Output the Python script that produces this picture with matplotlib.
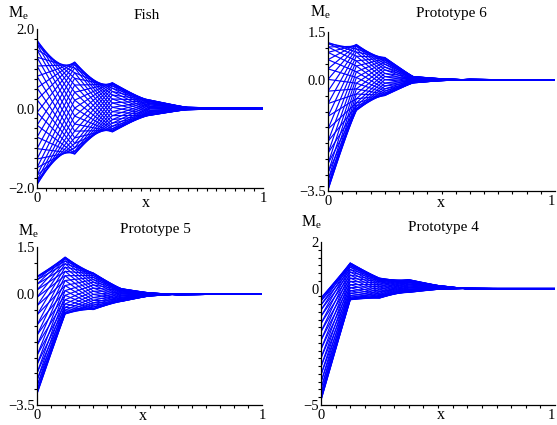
import numpy as np
import matplotlib.pyplot as plt
from matplotlib.ticker import FixedLocator, MultipleLocator

plt.rcParams['font.family'] = ['Liberation Serif', 'DejaVu Serif']
plt.rcParams['mathtext.fontset'] = 'stix'

# ---- data: M_e at the element nodes, one list per node, one entry per curve ----
fish_x = [0.0, 0.1667, 0.3333, 0.5, 0.6667, 0.8333, 1.0]
proto_x = [0.0, 0.125, 0.25, 0.375, 0.5, 0.625, 0.75, 0.875, 1.0]

tiny_col = [0.010, 0.011, 0.012, 0.012, 0.012, 0.011, 0.010, 0.009, 0.008, 0.006, 0.004, 0.002,
            0.0, -0.002, -0.004, -0.006, -0.008, -0.009, -0.010, -0.011, -0.012, -0.012, -0.012, -0.011,
            -0.010, -0.009, -0.008, -0.006, -0.004, -0.002, 0.0, 0.002, 0.004, 0.006, 0.008, 0.009]
zero_col = [0.0] * 36

fish_m0 = [1.72, 1.69, 1.61, 1.48, 1.29, 1.07, 0.81, 0.52, 0.22, -0.10, -0.42, -0.72, -1.01, -1.27, -1.49, -1.68, -1.81, -1.89,
           -1.92, -1.89, -1.81, -1.68, -1.49, -1.27, -1.01, -0.72, -0.42, -0.10, 0.22, 0.52, 0.81, 1.07, 1.29, 1.48, 1.61, 1.69]
fish_m1 = [0.41, 0.21, 0.01, -0.19, -0.39, -0.57, -0.74, -0.88, -0.99, -1.08, -1.13, -1.15, -1.13, -1.08, -0.99, -0.88, -0.74, -0.57,
           -0.39, -0.19, 0.01, 0.21, 0.41, 0.59, 0.76, 0.90, 1.02, 1.10, 1.15, 1.17, 1.15, 1.10, 1.02, 0.90, 0.76, 0.59]
fish_m2 = [-0.51, -0.55, -0.58, -0.59, -0.58, -0.55, -0.51, -0.45, -0.37, -0.28, -0.18, -0.08, 0.03, 0.14, 0.24, 0.34, 0.43, 0.51,
           0.57, 0.61, 0.64, 0.65, 0.64, 0.61, 0.57, 0.51, 0.43, 0.34, 0.24, 0.14, 0.03, -0.08, -0.18, -0.28, -0.37, -0.45]
fish_m3 = [-0.15, -0.13, -0.10, -0.08, -0.05, -0.01, 0.02, 0.05, 0.09, 0.12, 0.14, 0.17, 0.18, 0.20, 0.21, 0.21, 0.21, 0.20,
           0.18, 0.17, 0.14, 0.12, 0.09, 0.05, 0.02, -0.01, -0.05, -0.08, -0.10, -0.13, -0.15, -0.16, -0.17, -0.17, -0.17, -0.16]
fish_m4 = [0.0, 0.005, 0.01, 0.015, 0.019, 0.023, 0.026, 0.028, 0.03, 0.03, 0.03, 0.028, 0.026, 0.023, 0.019, 0.015, 0.01, 0.005,
           0.0, -0.005, -0.01, -0.015, -0.019, -0.023, -0.026, -0.028, -0.03, -0.03, -0.03, -0.028, -0.026, -0.023, -0.019, -0.015, -0.01, -0.005]

p6_m0 = [1.17, 1.14, 1.03, 0.86, 0.63, 0.34, 0.01, -0.36, -0.75, -1.15, -1.55, -1.94, -2.31, -2.64, -2.93, -3.16, -3.33, -3.44,
         -3.47, -3.44, -3.33, -3.16, -2.93, -2.64, -2.31, -1.94, -1.55, -1.15, -0.75, -0.36, 0.01, 0.34, 0.63, 0.86, 1.03, 1.14]
p6_m1 = [0.87, 0.74, 0.59, 0.43, 0.25, 0.07, -0.11, -0.29, -0.45, -0.60, -0.73, -0.83, -0.91, -0.95, -0.97, -0.95, -0.91, -0.83,
         -0.73, -0.60, -0.45, -0.29, -0.11, 0.07, 0.25, 0.43, 0.59, 0.74, 0.87, 0.97, 1.05, 1.09, 1.11, 1.09, 1.05, 0.97]
p6_m2 = [0.10, 0.00, -0.11, -0.20, -0.29, -0.36, -0.42, -0.46, -0.49, -0.50, -0.49, -0.46, -0.42, -0.36, -0.29, -0.20, -0.11, 0.00,
         0.10, 0.20, 0.31, 0.40, 0.49, 0.56, 0.62, 0.66, 0.69, 0.70, 0.69, 0.66, 0.62, 0.56, 0.49, 0.40, 0.31, 0.20]
p6_m3 = [-0.06, -0.08, -0.09, -0.09, -0.10, -0.10, -0.10, -0.09, -0.09, -0.08, -0.06, -0.05, -0.03, -0.02, 0.00, 0.02, 0.03, 0.05,
         0.06, 0.08, 0.09, 0.09, 0.10, 0.10, 0.10, 0.09, 0.09, 0.08, 0.06, 0.05, 0.03, 0.02, 0.00, -0.02, -0.03, -0.05]
p6_m4 = [-0.03, -0.03, -0.03, -0.028, -0.026, -0.023, -0.019, -0.015, -0.01, -0.005, 0.0, 0.005, 0.01, 0.015, 0.019, 0.023, 0.026, 0.028,
         0.03, 0.03, 0.03, 0.028, 0.026, 0.023, 0.019, 0.015, 0.01, 0.005, 0.0, -0.005, -0.01, -0.015, -0.019, -0.023, -0.026, -0.028]

p5_m0 = [0.57, 0.54, 0.46, 0.32, 0.14, -0.09, -0.36, -0.65, -0.97, -1.29, -1.61, -1.93, -2.22, -2.49, -2.72, -2.90, -3.04, -3.12,
         -3.15, -3.12, -3.04, -2.90, -2.72, -2.49, -2.22, -1.93, -1.61, -1.29, -0.97, -0.65, -0.36, -0.09, 0.14, 0.32, 0.46, 0.54]
p5_m1 = [1.13, 1.06, 0.97, 0.86, 0.73, 0.59, 0.44, 0.28, 0.12, -0.03, -0.17, -0.30, -0.41, -0.50, -0.57, -0.61, -0.62, -0.61,
         -0.57, -0.50, -0.41, -0.30, -0.17, -0.03, 0.12, 0.28, 0.44, 0.59, 0.73, 0.86, 0.97, 1.06, 1.13, 1.17, 1.18, 1.17]
p5_m2 = [0.39, 0.30, 0.20, 0.10, 0.00, -0.10, -0.19, -0.27, -0.34, -0.40, -0.45, -0.47, -0.48, -0.47, -0.45, -0.40, -0.34, -0.27,
         -0.19, -0.10, 0.00, 0.10, 0.20, 0.30, 0.39, 0.47, 0.54, 0.60, 0.65, 0.67, 0.68, 0.67, 0.65, 0.60, 0.54, 0.47]
p5_m3 = [-0.05, -0.09, -0.12, -0.15, -0.17, -0.19, -0.21, -0.22, -0.22, -0.22, -0.21, -0.19, -0.17, -0.15, -0.12, -0.09, -0.05, -0.02,
         0.02, 0.05, 0.08, 0.11, 0.13, 0.15, 0.17, 0.18, 0.18, 0.18, 0.17, 0.15, 0.13, 0.11, 0.08, 0.05, 0.02, -0.02]
p5_m4 = [-0.038, -0.043, -0.047, -0.049, -0.05, -0.049, -0.047, -0.043, -0.038, -0.032, -0.025, -0.017, -0.009, 0.0, 0.009, 0.017, 0.025, 0.032,
         0.038, 0.043, 0.047, 0.049, 0.05, 0.049, 0.047, 0.043, 0.038, 0.032, 0.025, 0.017, 0.009, 0.0, -0.009, -0.017, -0.025, -0.032]

p4_m0 = [-0.40, -0.43, -0.53, -0.70, -0.92, -1.19, -1.50, -1.85, -2.22, -2.60, -2.98, -3.35, -3.70, -4.02, -4.29, -4.51, -4.67, -4.77,
         -4.80, -4.77, -4.67, -4.51, -4.29, -4.02, -3.70, -3.35, -2.98, -2.60, -2.22, -1.85, -1.50, -1.19, -0.92, -0.70, -0.53, -0.43]
p4_m1 = [1.05, 0.99, 0.92, 0.82, 0.71, 0.58, 0.45, 0.31, 0.17, 0.04, -0.09, -0.20, -0.30, -0.37, -0.43, -0.47, -0.48, -0.47,
         -0.43, -0.37, -0.30, -0.20, -0.09, 0.04, 0.17, 0.31, 0.45, 0.58, 0.71, 0.82, 0.92, 0.99, 1.05, 1.09, 1.10, 1.09]
p4_m2 = [0.30, 0.24, 0.17, 0.10, 0.02, -0.06, -0.13, -0.20, -0.26, -0.31, -0.35, -0.38, -0.40, -0.41, -0.40, -0.38, -0.35, -0.31,
         -0.26, -0.20, -0.13, -0.06, 0.02, 0.10, 0.17, 0.24, 0.30, 0.35, 0.39, 0.42, 0.44, 0.45, 0.44, 0.42, 0.39, 0.35]
p4_m3 = [0.02, -0.03, -0.06, -0.10, -0.12, -0.14, -0.16, -0.16, -0.16, -0.14, -0.12, -0.10, -0.06, -0.03, 0.02, 0.06, 0.11, 0.16,
         0.20, 0.25, 0.28, 0.32, 0.34, 0.36, 0.38, 0.38, 0.38, 0.36, 0.34, 0.32, 0.28, 0.25, 0.20, 0.16, 0.11, 0.06]
p4_m4 = [-0.01, -0.02, -0.03, -0.03, -0.03, -0.03, -0.03, -0.02, -0.01, 0.00, 0.01, 0.02, 0.04, 0.05, 0.06, 0.08, 0.09, 0.10,
         0.11, 0.12, 0.13, 0.13, 0.13, 0.13, 0.13, 0.12, 0.11, 0.10, 0.09, 0.08, 0.06, 0.05, 0.04, 0.02, 0.01, 0.00]

titles = ['Fish', 'Prototype 6', 'Prototype 5', 'Prototype 4']
y_ranges = [(-2.0, 2.0), (-3.5, 1.5), (-3.5, 1.5), (-5, 2)]
y_ticks = [[-2.0, 0.0, 2.0], [-3.5, 0.0, 1.5], [-3.5, 0.0, 1.5], [-5, 0, 2]]
y_ticklabels = [['\u22122.0', '0.0', '2.0'], ['\u22123.5', '0.0', '1.5'],
                ['\u22123.5', '0.0', '1.5'], ['\u22125', '0', '2']]

panel_data = [
    (fish_x, [fish_m0, fish_m1, fish_m2, fish_m3, fish_m4, tiny_col, zero_col]),
    (proto_x, [p6_m0, p6_m1, p6_m2, p6_m3, p6_m4, tiny_col, zero_col, zero_col, zero_col]),
    (proto_x, [p5_m0, p5_m1, p5_m2, p5_m3, p5_m4, tiny_col, zero_col, zero_col, zero_col]),
    (proto_x, [p4_m0, p4_m1, p4_m2, p4_m3, p4_m4, tiny_col, zero_col, zero_col, zero_col]),
]

# ---- layout (pixels of the 557x425 canvas) ----
W, H = 557, 425
fig = plt.figure(figsize=(W / 100, H / 100), dpi=100)

boxes = [(37, 29, 263, 188), (328, 32, 555, 191), (37, 247, 262, 405), (321, 242, 555, 405)]
x_minor = [1 / 24, 1 / 16, 1 / 16, 1 / 16]
y_minor = [0.25, 0.5, 0.5, 1 / 3]
title_pos = [(147, 19), (451, 17), (155, 233), (443, 231)]
me_pos = [(8, 18), (310, 17), (18, 236), (301, 227)]
xlab_pos = [(146, 207), (441, 207), (143, 420), (441, 419)]
right_col = [False, True, False, True]

for i in range(4):
    l, t, r, b = boxes[i]
    ax = fig.add_axes([l / W, 1 - b / H, (r - l) / W, (b - t) / H])
    xs, cols = panel_data[i]
    curves = np.column_stack(cols)
    ax.plot(xs, curves.T, color='#0000ff', lw=0.85)
    ax.set_xlim(0, 1)
    ax.set_ylim(*y_ranges[i])
    for s in ['top', 'right']:
        ax.spines[s].set_visible(False)
    ax.spines['left'].set_linewidth(0.9)
    ax.spines['bottom'].set_linewidth(0.9)
    ax.xaxis.set_major_locator(FixedLocator([0, 1]))
    ax.set_xticklabels(['0', '1'])
    ax.yaxis.set_major_locator(FixedLocator(y_ticks[i]))
    ax.set_yticklabels(y_ticklabels[i])
    ax.xaxis.set_minor_locator(MultipleLocator(x_minor[i]))
    ax.yaxis.set_minor_locator(MultipleLocator(y_minor[i]))
    ax.tick_params(which='major', length=0, labelsize=10.5)
    ax.tick_params(axis='x', which='major', pad=3)
    ax.tick_params(axis='y', which='major', pad=1.5)
    ax.tick_params(which='minor', direction='out', length=2.5, width=0.8)
    ax.set_facecolor('none')
    if right_col[i]:
        # the "1" sits on the canvas edge; keep it inside
        ax.get_xticklabels()[1].set_horizontalalignment('right')

    tx, ty = title_pos[i]
    fig.text(tx / W, 1 - ty / H, titles[i], ha='center', va='baseline', fontsize=11)
    mx, my = me_pos[i]
    fig.text(mx / W, 1 - my / H, r'$\mathregular{M_e}$', ha='left', va='baseline', fontsize=11.5)
    lx, ly = xlab_pos[i]
    fig.text(lx / W, 1 - ly / H, 'x', ha='center', va='baseline', fontsize=11.5)

fig.savefig('out.png', dpi=100)
